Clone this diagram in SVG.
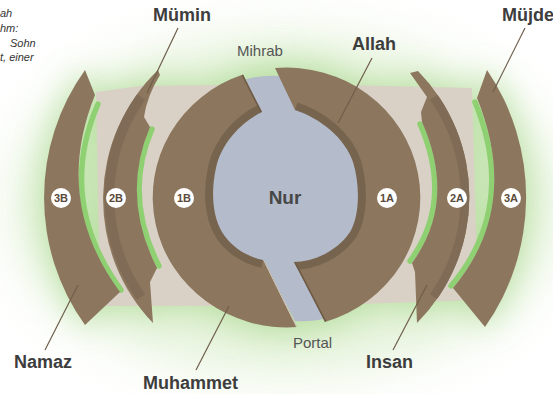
<svg xmlns="http://www.w3.org/2000/svg" width="553" height="394" viewBox="0 0 553 394">
<defs>
<style>
.lbl{font-family:"Liberation Sans",Arial,sans-serif;font-weight:bold;font-size:18px;fill:#3d3d3d}
.sub{font-family:"Liberation Sans",Arial,sans-serif;font-size:15px;fill:#555}
.note{font-family:"Liberation Sans",Arial,sans-serif;font-style:italic;font-size:11px;fill:#333}
.brown{fill:#8c765d}
.stripe{fill:none;stroke:#806c56;stroke-width:10}
.band{fill:none;stroke:#77644f;stroke-width:16}
.green{fill:none;stroke:#8fd172;stroke-width:5.5;stroke-linecap:round}
.badge circle{fill:#fff}
.badge text{font-family:"Liberation Sans",Arial,sans-serif;font-weight:bold;font-size:11px;fill:#5b4a3a;text-anchor:middle}
.lead{stroke:#6f5e4c;stroke-width:1.2;fill:none}
.nur{fill:#b4bccb}
</style>
<filter id="glow" x="-30%" y="-40%" width="160%" height="180%"><feGaussianBlur stdDeviation="17"/></filter>
<filter id="haze" x="-30%" y="-40%" width="160%" height="180%"><feGaussianBlur stdDeviation="30"/></filter>
<path id="s3B" d="M 85,70 A 219 219 0 0 0 85,325 L 120,292 Q 52.5,200.5 95,95 Z"/>
<path id="s2B" d="M 158,70 A 179 179 0 0 0 153,323 L 150,282 L 157,268 Q 120.5,196.5 150,127 L 144,117 Q 147,96 160,75 Z"/>
<path id="s1B" d="M 243,74.5 A 134 130 0 0 0 297,327 L 263,258 L 285,197 L 262,112 Z"/>
<path id="s1A" d="M 275,68 A 134 130 0 0 1 325,322 L 293,260 L 285,197 L 295,110 Z"/>
<path id="s2A" d="M 418,71 A 179 179 0 0 1 417,323 L 415,272 L 412,263 Q 457,201.5 422,122 L 421,112 L 427,97 L 410,73 Z"/>
<path id="s3A" d="M 487,70 A 226 226 0 0 1 485,327 L 453,288 Q 521,207 477,98 Z"/>
<path id="beigeShape" d="M 96,92 L 140,86 L 300,84 L 472,88 L 478,300 L 300,306 L 100,306 Z"/>
<clipPath id="c1B"><use href="#s1B"/></clipPath>
<clipPath id="c1A"><use href="#s1A"/></clipPath>
<clipPath id="c2B"><use href="#s2B"/></clipPath>
<clipPath id="c2A"><use href="#s2A"/></clipPath>
</defs>

<rect width="553" height="394" fill="#ffffff"/>

<ellipse cx="286" cy="205" rx="270" ry="165" fill="#d5ebc4" opacity="0.7" filter="url(#haze)"/>

<g id="glow-bg" filter="url(#glow)" fill="#a9d88e" opacity="0.8">
<use href="#s3B"/><use href="#s2B"/><use href="#s2A"/><use href="#s3A"/><use href="#beigeShape"/>
<ellipse cx="286.5" cy="197.5" rx="136" ry="133"/>
</g>

<use href="#beigeShape" fill="#d9d1c6"/>

<g id="green-strips">
<path class="green" d="M 121,290 Q 56,200.5 98,104"/>
<path class="green" d="M 159,266 Q 123,196.5 152,129"/>
<path class="green" d="M 410,261 Q 454,201.5 420,124"/>
<path class="green" d="M 451,286 Q 518,207 475,102"/>
</g>

<g id="arc-3B">
<use href="#s3B" class="brown"/>
<g class="badge"><circle cx="61" cy="198" r="10"/><text x="61" y="202">3B</text></g>
</g>

<g id="arc-2B">
<use href="#s2B" class="brown"/>
<path class="stripe" clip-path="url(#c2B)" d="M 141,97 A 174 174 0 0 0 141,297"/>
<g class="badge"><circle cx="116" cy="198" r="10"/><text x="116" y="202">2B</text></g>
</g>

<g id="arc-2A">
<use href="#s2A" class="brown"/>
<path class="stripe" clip-path="url(#c2A)" d="M 434,97 A 174 174 0 0 1 434,297"/>
<g class="badge"><circle cx="457" cy="198" r="10"/><text x="457" y="202">2A</text></g>
</g>

<g id="arc-3A">
<use href="#s3A" class="brown"/>
<g class="badge"><circle cx="511" cy="198" r="10"/><text x="511" y="202">3A</text></g>
</g>

<g id="nur">
<path class="nur" d="M 246,79 Q 262,75 280,76 L 300,115 L 300,262 L 327,318 Q 312,322 295,321 L 262,258 L 258,115 Z"/>
</g>

<g id="ring-1B">
<use href="#s1B" class="brown"/>
<path class="band" clip-path="url(#c1B)" d="M 262,112 C 245,120 222,140 216,168 C 211,190 212,215 222,232 C 232,248 248,257 263,260"/>
<path clip-path="url(#c1B)" d="M 243,74.5 L 262,112" stroke="#6e5b47" stroke-width="3" fill="none"/>
<path clip-path="url(#c1B)" d="M 263,258 L 297,327" stroke="#e2dcd3" stroke-width="1.5" fill="none"/>
</g>

<g id="ring-1A">
<use href="#s1A" class="brown"/>
<path class="band" clip-path="url(#c1A)" d="M 293,262 C 315,262 338,250 350,232 C 360,215 360,185 353,162 C 345,138 320,118 295,110"/>
<path clip-path="url(#c1A)" d="M 293,260 L 325,322" stroke="#6e5b47" stroke-width="3" fill="none"/>
</g>

<g id="nur-bulb">
<path class="nur" d="M 262,112 C 245,120 222,140 216,168 C 211,190 212,215 222,232 C 232,248 248,257 263,260 L 293,262 C 315,262 338,250 350,232 C 360,215 360,185 353,162 C 345,138 320,118 295,110 Z"/>
<text x="285" y="204" text-anchor="middle" style="font-family:'Liberation Sans',Arial,sans-serif;font-weight:bold;font-size:19px;fill:#474747">Nur</text>
</g>

<g id="badges-ring">
<g class="badge"><circle cx="184" cy="198" r="10"/><text x="184" y="202">1B</text></g>
<g class="badge"><circle cx="387" cy="198" r="10"/><text x="387" y="202">1A</text></g>
</g>

<g id="connectors">
<line class="lead" x1="178" y1="28" x2="147" y2="93"/>
<line class="lead" x1="372" y1="58" x2="338" y2="123"/>
<line class="lead" x1="525" y1="28" x2="493" y2="92"/>
<line class="lead" x1="78" y1="285" x2="45" y2="350"/>
<line class="lead" x1="229" y1="306" x2="196" y2="370"/>
<line class="lead" x1="427" y1="285" x2="393" y2="350"/>
</g>

<g id="label-mumin"><text class="lbl" x="153" y="21">Mümin</text></g>
<g id="label-mujde"><text class="lbl" x="502" y="21">Müjde</text></g>
<g id="label-allah"><text class="lbl" x="352" y="50">Allah</text></g>
<g id="label-mihrab"><text class="sub" x="237" y="55.5">Mihrab</text></g>
<g id="label-portal"><text class="sub" x="293" y="347.5">Portal</text></g>
<g id="label-namaz"><text class="lbl" x="14" y="368">Namaz</text></g>
<g id="label-insan"><text class="lbl" x="366" y="368">Insan</text></g>
<g id="label-muhammet"><text class="lbl" x="143" y="389">Muhammet</text></g>

<g id="note">
<text class="note" x="0" y="17">ah</text>
<text class="note" x="0" y="32">hm:</text>
<text class="note" x="10" y="47">Sohn</text>
<text class="note" x="0" y="61">t, einer</text>
</g>
</svg>
